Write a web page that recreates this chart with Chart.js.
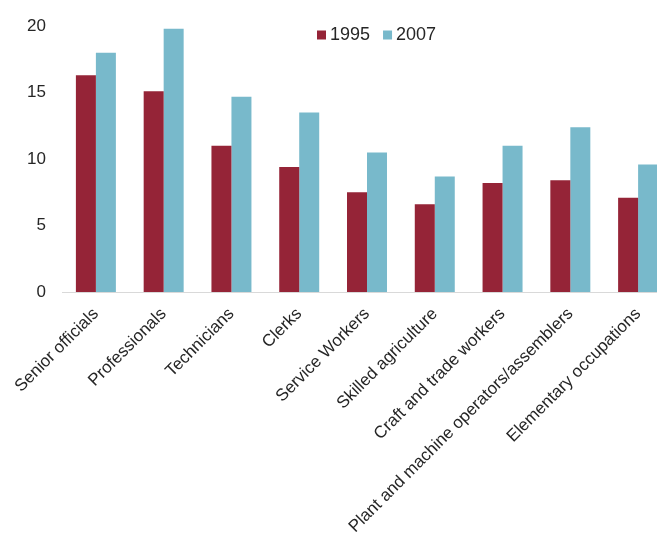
<!DOCTYPE html>
<html>
<head>
<meta charset="utf-8">
<script src="https://cdn.jsdelivr.net/npm/chart.js@4"></script>
<style>
  html, body { margin: 0; padding: 0; background: #fff; overflow: hidden; }
  #wrap { position: relative; width: 680px; height: 541px; }
</style>
</head>
<body>
<div id="wrap"><canvas id="occupationChart"></canvas></div>
<script>
// Data
const categories = [
  "Senior officials",
  "Professionals",
  "Technicians",
  "Clerks",
  "Service Workers",
  "Skilled agriculture",
  "Craft and trade workers",
  "Plant and machine operators/assemblers",
  "Elementary occupations"
];
const values1995 = [16.3, 15.1, 11.0, 9.4, 7.5, 6.6, 8.2, 8.4, 7.1];
const values2007 = [18.0, 19.8, 14.7, 13.5, 10.5, 8.7, 11.0, 12.4, 9.6];
const yTicks = [0, 5, 10, 15, 20];
const seriesLabels = ["1995", "2007"];
const seriesColors = ["#952437", "#78b9cb"];

const FONT = "'Liberation Sans', Arial, sans-serif";
const TEXT = "#262626";

// legend drawn inside the plot area, like the original
const insideLegend = {
  id: "insideLegend",
  afterDraw(chart, args, opts) {
    const ctx = chart.ctx;
    ctx.save();
    ctx.font = opts.font;
    ctx.textBaseline = "middle";
    let x = opts.x;
    chart.data.datasets.forEach((ds) => {
      ctx.fillStyle = ds.backgroundColor;
      ctx.fillRect(x, opts.y - opts.box / 2, opts.box, opts.box);
      x += opts.box + opts.gap;
      ctx.fillStyle = opts.color;
      ctx.fillText(ds.label, x, opts.y);
      x += ctx.measureText(ds.label).width + opts.spacing;
    });
    ctx.restore();
  }
};

const ctx = document.getElementById("occupationChart").getContext("2d");

new Chart(ctx, {
  type: "bar",
  data: {
    labels: categories,
    datasets: [
      {
        label: seriesLabels[0],
        data: values1995,
        backgroundColor: seriesColors[0],
        categoryPercentage: 0.59,
        barPercentage: 1.0,
      },
      {
        label: seriesLabels[1],
        data: values2007,
        backgroundColor: seriesColors[1],
        categoryPercentage: 0.59,
        barPercentage: 1.0,
      },
    ],
  },
  options: {
    responsive: true,
    maintainAspectRatio: false,
    animation: false,
    layout: { padding: { left: 26, right: 8, top: 16, bottom: 0 } },
    plugins: {
      legend: { display: false },
      tooltip: { enabled: false },
      insideLegend: {
        x: 317, y: 35, box: 9, gap: 4, spacing: 13,
        font: "18px " + FONT, color: TEXT,
      },
    },
    scales: {
      x: {
        grid: { display: false, drawTicks: false },
        border: { display: true, color: "#d9d9d9", width: 1 },
        ticks: {
          autoSkip: false,
          maxRotation: 45,
          minRotation: 45,
          padding: 12,
          color: TEXT,
          font: { family: FONT, size: 17 },
        },
        afterFit(scale) { scale.height = 249; },
      },
      y: {
        min: yTicks[0],
        max: yTicks[yTicks.length - 1],
        grid: { display: false, drawTicks: false },
        border: { display: false },
        ticks: {
          stepSize: yTicks[1] - yTicks[0],
          padding: 16,
          color: TEXT,
          font: { family: FONT, size: 17 },
        },
        afterFit(scale) { scale.width = 36; },
      },
    },
  },
  plugins: [insideLegend],
});
</script>
</body>
</html>
